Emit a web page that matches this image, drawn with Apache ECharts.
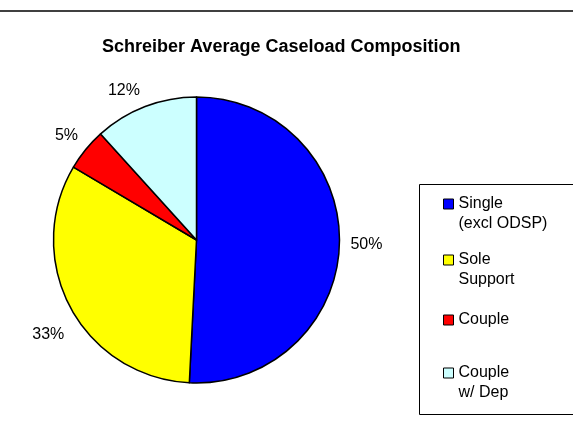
<!DOCTYPE html>
<html>
<head>
<meta charset="utf-8">
<script src="https://cdn.jsdelivr.net/npm/echarts@6/dist/echarts.min.js"></script>
<style>
html,body{margin:0;padding:0;background:#fff;}
#chart{width:573px;height:422px;}
</style>
</head>
<body>
<div id="chart"></div>
<script>
var categories = ['Single\n(excl ODSP)', 'Sole\nSupport', 'Couple', 'Couple\nw/ Dep'];
var values = [50.8, 32.7, 4.8, 11.7];
var labelTexts = ['50%', '33%', '5%', '12%'];
var colors = ['#0000FF', '#FFFF00', '#FF0000', '#CCFFFF'];
var titleText = 'Schreiber Average Caseload Composition';

// label nudges (style only)
var labelOffsets = [[0, 1], [4, 24], [2, -10], [2, -10]];

var FONT = '"Liberation Sans", Arial, sans-serif';
var chart = echarts.init(document.getElementById('chart'), null, {renderer: 'canvas'});

var legendTops = [174, 230, 310, 343];
var legends = categories.map(function (name, i) {
  var multi = name.indexOf('\n') >= 0;
  return {
    orient: 'vertical',
    left: 443,
    top: legendTops[i],
    padding: 0,
    itemWidth: 10,
    itemHeight: 10,
    icon: 'rect',
    selectedMode: false,
    itemStyle: {borderColor: '#000', borderWidth: 1},
    textStyle: {fontFamily: FONT, fontSize: 16, color: '#000', lineHeight: 20},
    formatter: function (n) { return multi ? ' \n' + n : n; },
    data: [name]
  };
});

chart.setOption({
  animation: false,
  backgroundColor: '#fff',
  title: {
    text: titleText,
    left: 102,
    top: 38,
    padding: 0,
    textStyle: {fontFamily: FONT, fontSize: 18, fontWeight: 'bold', color: '#000'}
  },
  graphic: [
    {type: 'line', shape: {x1: 0, y1: 11, x2: 573, y2: 11}, style: {stroke: '#404040', lineWidth: 2}},
    {type: 'rect', shape: {x: 419.5, y: 184.5, width: 200, height: 230}, style: {fill: 'none', stroke: '#000', lineWidth: 1}}
  ],
  legend: legends,
  series: [{
    type: 'pie',
    center: [196.5, 240],
    radius: [0, 143],
    startAngle: 90,
    clockwise: true,
    avoidLabelOverlap: false,
    color: colors,
    itemStyle: {borderColor: '#000', borderWidth: 1.5},
    label: {
      show: true,
      position: 'outside',
      fontFamily: FONT,
      fontSize: 16,
      color: '#000',
      formatter: function (p) { return labelTexts[p.dataIndex]; }
    },
    labelLine: {show: false, length: 6, length2: 0},
    emphasis: {disabled: true},
    data: categories.map(function (c, i) {
      return {name: c, value: values[i], label: {offset: labelOffsets[i]}};
    })
  }]
});
</script>
</body>
</html>
